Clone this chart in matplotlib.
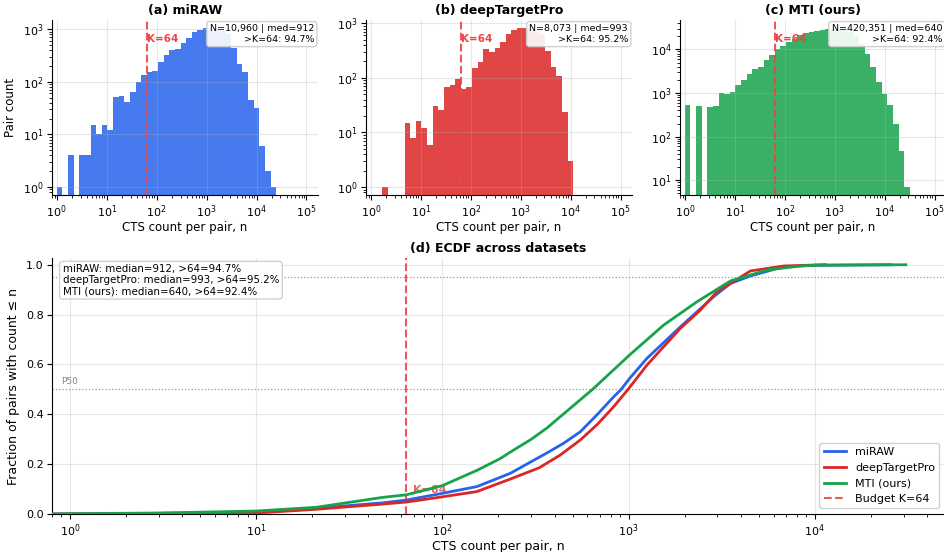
import numpy as np
import matplotlib
matplotlib.use("Agg")
import matplotlib.pyplot as plt
from matplotlib.lines import Line2D

# shared log bins, 40 bins from 1 to ~32000
bin_lo = 1.0
bin_hi = 32000.0
n_bins = 40

names = ["miRAW", "deepTargetPro", "MTI (ours)"]
titles = ["(a) miRAW", "(b) deepTargetPro", "(c) MTI (ours)"]
colors = ["#2563eb", "#dc2626", "#16a34a"]
n_pairs = [10960, 8073, 420351]
medians = [912, 993, 640]
above_k = [94.7, 95.2, 92.4]
budget_k = 64

counts_miraw = [1, 0, 4, 0, 4, 4, 15, 10, 15, 12,
                51, 54, 42, 63, 97, 132, 155, 160, 240, 320,
                406, 410, 550, 690, 870, 960, 1050, 1040, 1000, 930,
                790, 430, 220, 150, 45, 32, 6, 2, 1, 0]
counts_dtp = [0, 0, 1, 0, 0, 0, 15, 8, 16, 12,
              6, 30, 26, 68, 75, 97, 62, 69, 152, 195,
              335, 300, 360, 460, 635, 760, 820, 820, 780, 730,
              640, 308, 155, 110, 24, 3, 0, 0, 0, 0]
counts_mti = [530, 0, 512, 0, 467, 500, 1000, 970, 1050, 1540,
              1960, 2770, 3480, 4000, 5700, 7400, 10000, 12300, 14800, 17800,
              21300, 24000, 25300, 26300, 27500, 29500, 31000, 31000, 29000, 25000,
              20000, 13500, 7700, 4000, 1800, 970, 540, 195, 47, 7]
hist_counts = [counts_miraw, counts_dtp, counts_mti]

# ECDF points
ecdf_miraw_n = [0.8, 1, 10, 21, 48, 64, 100, 153, 231, 364, 450, 550, 680, 830, 912,
                1012, 1256, 1897, 2864, 3524, 4508, 6800, 10000, 25700]
ecdf_miraw_f = [0.0, 0.0001, 0.006, 0.023, 0.045, 0.056, 0.083, 0.110, 0.163, 0.245,
                0.285, 0.33, 0.40, 0.47, 0.50, 0.544, 0.625, 0.751, 0.872, 0.925,
                0.955, 0.992, 0.998, 1.0]
ecdf_dtp_n = [0.8, 2, 10, 21, 48, 64, 100, 153, 231, 330, 430, 550, 680, 830, 993,
              1256, 1897, 2427, 2985, 4508, 6800, 11400]
ecdf_dtp_f = [0.0, 0.0001, 0.004, 0.019, 0.040, 0.048, 0.069, 0.090, 0.140, 0.185,
              0.237, 0.297, 0.36, 0.43, 0.50, 0.598, 0.745, 0.818, 0.892, 0.975,
              0.995, 1.0]
ecdf_mti_n = [0.8, 1, 3, 10, 21, 48, 64, 100, 153, 204, 231, 300, 364, 640, 1012,
              1542, 2333, 3524, 5550, 8375, 10000, 30800]
ecdf_mti_f = [0.0, 0.0013, 0.004, 0.012, 0.027, 0.067, 0.077, 0.114, 0.175, 0.222,
              0.248, 0.30, 0.345, 0.50, 0.638, 0.758, 0.852, 0.935, 0.979, 0.995,
              0.998, 1.0]
ecdf_n = [ecdf_miraw_n, ecdf_dtp_n, ecdf_mti_n]
ecdf_f = [ecdf_miraw_f, ecdf_dtp_f, ecdf_mti_f]

edges = np.logspace(np.log10(bin_lo), np.log10(bin_hi), n_bins + 1)
centers = np.sqrt(edges[:-1] * edges[1:])

fig = plt.figure(figsize=(9.45, 5.52), dpi=100)

hist_lefts = [0.055, 0.3873, 0.7196]
for i in range(3):
    ax = fig.add_axes([hist_lefts[i], 0.6467, 0.2815, 0.317])
    ax.hist(centers, bins=edges, weights=hist_counts[i], log=True,
            color=colors[i], alpha=0.85)
    ax.set_xscale("log")
    ax.set_xlim(0.8, 1.7e5)
    ax.axvline(budget_k, color="#ef4444", ls="--", lw=1.5, alpha=0.9)
    ax.text(budget_k * 1.02, 0.89, "K=64", transform=ax.get_xaxis_transform(),
            color="#ef4444", fontsize=7.5, fontweight="bold", va="center")
    ax.text(0.985, 0.975,
            "N=%s | med=%d\n>K=%d: %.1f%%" % (format(n_pairs[i], ","), medians[i],
                                              budget_k, above_k[i]),
            transform=ax.transAxes, ha="right", va="top", fontsize=6.8,
            bbox=dict(boxstyle="round,pad=0.3", facecolor="white", edgecolor="#cccccc",
                      alpha=0.9))
    ax.set_title(titles[i], fontsize=9, fontweight="bold", pad=4)
    ax.set_xlabel("CTS count per pair, n", fontsize=8.5, labelpad=1)
    if i == 0:
        ax.set_ylabel("Pair count", fontsize=8.5)
    ax.tick_params(labelsize=8, pad=2.5)
    ax.grid(True, alpha=0.3)
    ax.spines["top"].set_visible(False)
    ax.spines["right"].set_visible(False)

# (d) ECDF
ax = fig.add_axes([0.055, 0.0688, 0.945, 0.4638])
ax.axhline(0.95, color="#999999", ls=":", lw=0.9)
ax.axhline(0.5, color="#999999", ls=":", lw=0.9)
ax.text(0.9, 0.515, "P50", color="#888888", fontsize=6.5, va="bottom")
ax.axvline(budget_k, color="#ef4444", ls="--", lw=1.5, alpha=0.9)
ax.text(budget_k * 1.08, 0.095, "K=64", color="#ef4444", fontsize=8,
        fontweight="bold", alpha=0.85, va="center", zorder=1)
for i in range(3):
    ax.plot(ecdf_n[i], ecdf_f[i], color=colors[i], lw=2, label=names[i], zorder=3)
ax.set_xscale("log")
ax.set_xlim(0.8, 5e4)
ax.set_ylim(0, 1.027)
ax.set_title("(d) ECDF across datasets", fontsize=9, fontweight="bold", pad=4)
ax.set_xlabel("CTS count per pair, n", fontsize=9, labelpad=1)
ax.set_ylabel("Fraction of pairs with count \u2264 n", fontsize=9)
ax.tick_params(labelsize=8, pad=2.5)
ax.grid(True, alpha=0.3)
ax.spines["top"].set_visible(False)
ax.spines["right"].set_visible(False)

summary = "\n".join("%s: median=%d, >64=%.1f%%" % (names[i], medians[i], above_k[i])
                    for i in range(3))
ax.text(0.012, 0.975, summary, transform=ax.transAxes, ha="left", va="top",
        fontsize=7.4, linespacing=1.1,
        bbox=dict(boxstyle="round,pad=0.3", facecolor="white", edgecolor="#cccccc",
                  alpha=0.9))

handles, labels = ax.get_legend_handles_labels()
handles.append(Line2D([0], [0], color="#ef4444", ls="--", lw=1.5, alpha=0.9))
labels.append("Budget K=64")
ax.legend(handles, labels, loc="lower right", fontsize=8, framealpha=0.9)

fig.savefig("out.png", dpi=100)
